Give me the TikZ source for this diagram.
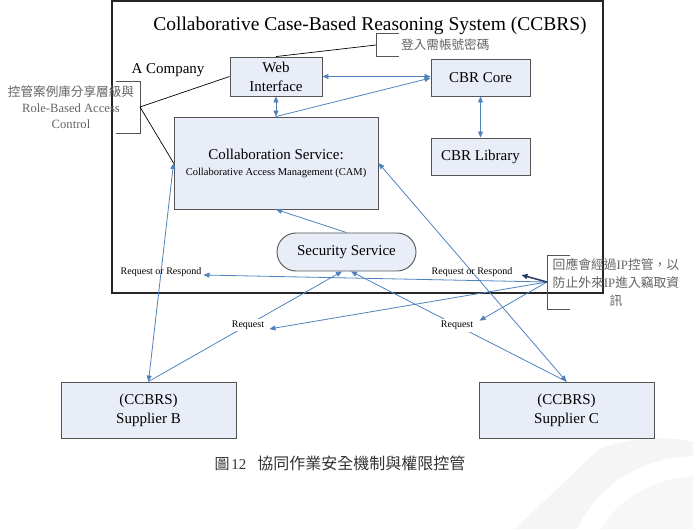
\documentclass[tikz,border=0pt]{standalone}
\usepackage{fontspec}
\setmainfont{Liberation Serif}
\newfontfamily\cjk{Noto Sans CJK TC}
\usetikzlibrary{arrows.meta,calc}
\definecolor{bl}{RGB}{79,129,189}
\definecolor{boxfill}{RGB}{233,237,247}
\definecolor{boxdraw}{RGB}{85,85,85}
\definecolor{noteink}{RGB}{100,100,100}
\definecolor{darkarrow}{RGB}{35,58,100}
\begin{document}
\begin{tikzpicture}[x=1pt,y=-1pt,
  box/.style={draw=boxdraw, line width=0.9pt, fill=boxfill, inner sep=0pt, align=center,
              font=\fontsize{15}{19}\selectfont},
  conn/.style={bl, line width=0.8pt, -{Triangle[length=6pt,width=5pt]}},
  dconn/.style={bl, line width=0.8pt, {Triangle[length=6pt,width=5pt]}-{Triangle[length=6pt,width=5pt]}},
  lbl/.style={text=black, font=\fontsize{10}{12}\selectfont, inner sep=2pt},
  note/.style={noteink, align=center, inner sep=0pt},
  brk/.style={draw=boxdraw, line width=0.7pt},
  callout/.style={black, line width=0.7pt}]
\useasboundingbox (0,0) rectangle (693,529);

% faint watermark
\fill[black!4] (515,529) -- (598,450) .. controls (630,436) and (670,436) .. (693,442) -- (693,529) -- cycle;
\fill[white] (577,529) .. controls (598,485) and (640,458) .. (693,456) -- (693,529) -- cycle;
\fill[black!3] (602,529) .. controls (617,500) and (650,480) .. (693,476) -- (693,529) -- cycle;

% system frame
\node[draw=black!85, line width=1.1pt, minimum width=491pt, minimum height=292pt, inner sep=0pt]
  (sys) at (357.5,147) {};
\node[font=\fontsize{19.5}{22}\selectfont] (title) at (370,26) {Collaborative Case-Based Reasoning System (CCBRS)};
\node[font=\fontsize{15}{18}\selectfont, inner sep=0pt] (acomp) at (168,70) {A Company};

% boxes
\node[box, minimum width=92pt, minimum height=39pt] (web) at (276,76.5) {Web\\Interface};
\node[box, minimum width=99pt, minimum height=37pt] (core) at (480.5,77.5) {CBR Core};
\node[box, minimum width=99pt, minimum height=37pt] (lib) at (480.5,156.5) {CBR Library};
\node[box, minimum width=204pt, minimum height=92pt] (collab) at (276,163)
  {Collaboration Service:\\[-3pt]{\fontsize{10.5}{12}\selectfont Collaborative Access Management (CAM)}};
\node[box, minimum width=139pt, minimum height=38pt, rounded corners=19pt] (sec) at (346.5,252) {Security Service};
\node[box, minimum width=175pt, minimum height=56pt] (supB) at (148.5,410) {(CCBRS)\\Supplier B};
\node[box, minimum width=175pt, minimum height=56pt] (supC) at (566.5,410) {(CCBRS)\\Supplier C};

% note brackets and texts
\coordinate (lb) at (140,107);
\coordinate (tb) at (376,45);
\coordinate (rb) at (547,282);
\draw[brk] (116,81) -- (140,81) -- (140,133) -- (116,133);
\node[note, font=\fontsize{12.6}{16}\selectfont] (lnote) at (71,107)
  {{\cjk 控管案例庫分享層級與}\\Role-Based Access\\Control};
\draw[brk] (399,33) -- (376,33) -- (376,56) -- (399,56);
\node[note, font=\fontsize{12.6}{16}\selectfont, anchor=west] (tnote) at (401,45) {\cjk 登入需帳號密碼};
\draw[brk] (570,255) -- (547,255) -- (547,309) -- (570,309);
\node[note, font=\fontsize{12.8}{18}\selectfont] (rnote) at (616,283)
  {{\cjk 回應會經過}IP{\cjk 控管，以}\\{\cjk 防止外來}IP{\cjk 進入竊取資}\\{\cjk 訊}};

% callout lines
\draw[callout] (lb) -- (web.west);
\draw[callout] (lb) -- (collab.west);
\draw[callout] (tb) -- (web.north);

% internal connectors
\draw[dconn] (web.east) -- (web.east -| core.west);
\draw[dconn] (web.south) -- (collab.north);
\draw[conn] (collab.north) -- ([yshift=-0.5pt]core.west);
\draw[dconn] (core.south) -- (lib.north);
\draw[conn] (sec.north) -- (collab.south);

% supplier connectors
\draw[dconn] (supB.north) -- (collab.west);
\draw[dconn] (supC.north) -- (collab.east);
\node[lbl] (rr1) at (161,272) {Request or Respond};
\node[lbl] (rr2) at (472,272) {Request or Respond};
\draw[conn] (supB.north) -- node[lbl, fill=white, pos=0.514] (rq1) {Request} ([xshift=-4.5pt]sec.south);
\draw[conn] (supC.north) -- node[lbl, fill=white, pos=0.508] (rq2) {Request} ([xshift=4.5pt]sec.south);

% IP control arrows
\draw[conn] (rb) -- ([yshift=-3pt]rr1.east);
\draw[conn] (rb) -- ([xshift=3pt,yshift=-4pt]rq1.east);
\draw[conn] (rb) -- ([xshift=4pt,yshift=5pt]rq2.east);
\draw[darkarrow, line width=1.5pt, -{Triangle[length=6pt,width=5pt]}] (rb) -- ([xshift=7pt,yshift=-3pt]rr2.east);

% caption
\node[black!80, inner sep=0pt] (cap) at (340,463)
  {{\cjk\fontsize{15}{18}\selectfont 圖}\,{\fontsize{15}{18}\selectfont 12}\hspace{1.1em}{\cjk\fontsize{16}{18}\selectfont 協同作業安全機制與權限控管}};
\end{tikzpicture}
\end{document}
